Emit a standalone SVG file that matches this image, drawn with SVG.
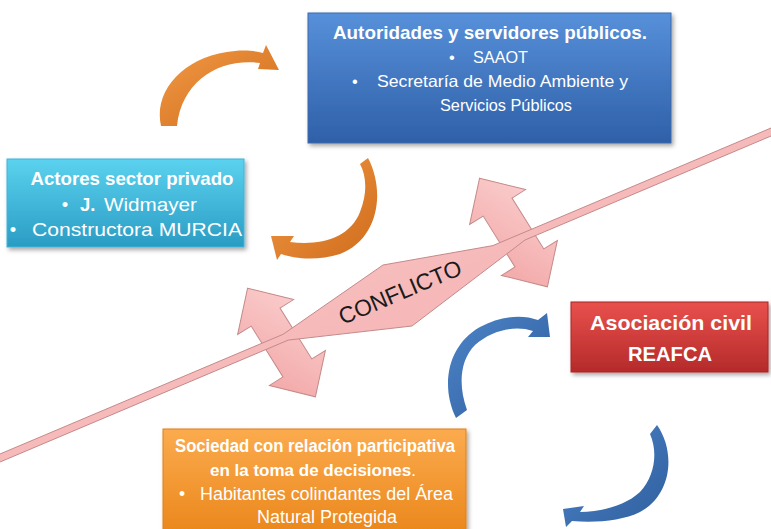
<svg xmlns="http://www.w3.org/2000/svg" width="771" height="529" viewBox="0 0 771 529">
<defs>
  <linearGradient id="gBlue" x1="0" y1="0" x2="0" y2="1"><stop offset="0" stop-color="#5790da"/><stop offset="1" stop-color="#2e60a8"/></linearGradient>
  <linearGradient id="gCyan" x1="0" y1="0" x2="0" y2="1"><stop offset="0" stop-color="#5bd2ef"/><stop offset="1" stop-color="#2a9cc4"/></linearGradient>
  <linearGradient id="gRed" x1="0" y1="0" x2="0" y2="1"><stop offset="0" stop-color="#e9514d"/><stop offset="1" stop-color="#b52a2a"/></linearGradient>
  <linearGradient id="gOrange" x1="0" y1="0" x2="0" y2="1"><stop offset="0" stop-color="#fbab4e"/><stop offset="1" stop-color="#ea8519"/></linearGradient>
  <linearGradient id="gPink" x1="0" y1="0" x2="1" y2="1"><stop offset="0" stop-color="#fbd0d0"/><stop offset="1" stop-color="#f2a4a4"/></linearGradient>
  <linearGradient id="gOrArrow" x1="0" y1="0" x2="1" y2="1"><stop offset="0" stop-color="#f29a45"/><stop offset="1" stop-color="#cf6c1c"/></linearGradient>
  <linearGradient id="gBlArrow" x1="0" y1="0" x2="1" y2="1"><stop offset="0" stop-color="#4d84c8"/><stop offset="1" stop-color="#2f5f9e"/></linearGradient>
  <filter id="shadow" x="-10%" y="-10%" width="125%" height="130%">
    <feDropShadow dx="2" dy="2.5" stdDeviation="2" flood-color="#000" flood-opacity="0.35"/>
  </filter>
  <polygon id="dblArrow" points="-64,0 -30,-33 -30,-17 30,-17 30,-33 64,0 30,33 30,17 -30,17 -30,33"/>
</defs>
<style>
  .t { fill:#ffffff; font-family:"Liberation Sans", Arial, sans-serif; }
  .b { font-weight:bold; }
  .pink { fill:url(#gPink); stroke:#c48a8a; stroke-width:1; }
  .orArrow { fill:url(#gOrArrow); }
  .blArrow { fill:url(#gBlArrow); }
  .box { filter:url(#shadow); }
</style>

<g id="connectors">
  <!-- double arrows across the conflict line -->
  <use href="#dblArrow" class="pink" transform="translate(513.5,232.5) rotate(58)"/>
  <use href="#dblArrow" class="pink" transform="translate(281.5,342.5) rotate(58)"/>
  <!-- orange curved arrows -->
  <path class="orArrow" d="M161,126 C153,90 185,55 235,51 C246,50 256,51 263,53 L266,45 L279,70 L258,69 L260,63 C220,58 182,80 177,126 Z"/>
  <path class="orArrow" d="M360,164 L368,158 C386,192 378,240 340,254 C318,261 295,259 281,254 L277,260 L271,236 L294,236 L290,242 C320,246 350,238 360,212 C368,192 366,175 360,164 Z"/>
  <!-- blue curved arrows -->
  <path class="blArrow" d="M456,418 C440,385 448,345 480,327 C500,316 522,314 538,320 L547,313 L550,337 L528,337 L533,331 C515,325 492,330 475,345 C460,360 458,385 467,410 Z"/>
  <path class="blArrow" d="M650,434 L657,425 C676,452 672,495 640,512 C622,521 595,523 572,521 L566,527 L563,509 L584,506 L580,512 C600,512 625,506 640,492 C655,476 658,452 650,434 Z"/>
</g>

<g id="conflicto">
  <path class="pink" d="M-5,456.1 L283.1,334.3 L383,265 L492.9,245.6 L776,125.9 L776,133.9 L525,240 L412,326 L288.2,340.1 L-5,464.1 Z"/>
  <text transform="translate(400,292) rotate(-23)" x="0" y="8" text-anchor="middle" font-family="Liberation Sans, Arial, sans-serif" font-size="23" fill="#1a1a1a" textLength="131" lengthAdjust="spacingAndGlyphs">CONFLICTO</text>
</g>

<g id="autoridades">
  <rect class="box" x="308" y="13" width="363" height="130" fill="url(#gBlue)" stroke="#3a68ad" stroke-width="1"/>
  <text class="t b" x="490" y="39" text-anchor="middle" font-size="19" textLength="314" lengthAdjust="spacingAndGlyphs">Autoridades y servidores públicos.</text>
  <text class="t" x="452" y="63" text-anchor="middle" font-size="16.5">•</text>
  <text class="t" x="473" y="63" font-size="16.5" textLength="55" lengthAdjust="spacingAndGlyphs">SAAOT</text>
  <text class="t" x="355" y="87" text-anchor="middle" font-size="16.5">•</text>
  <text class="t" x="377" y="87" font-size="16.5" textLength="251" lengthAdjust="spacingAndGlyphs">Secretaría de Medio Ambiente y</text>
  <text class="t" x="440" y="111" font-size="16.5" textLength="132" lengthAdjust="spacingAndGlyphs">Servicios Públicos</text>
</g>

<g id="privado">
  <rect class="box" x="7" y="159" width="237" height="88" fill="url(#gCyan)" stroke="#3fb4d8" stroke-width="1"/>
  <text class="t b" x="132" y="185" text-anchor="middle" font-size="18.5" textLength="203" lengthAdjust="spacingAndGlyphs">Actores sector privado</text>
  <text class="t" x="65" y="210.5" text-anchor="middle" font-size="18.5">•</text>
  <text class="t b" x="80" y="210.5" font-size="18.5">J.</text>
  <text class="t" x="104" y="210.5" font-size="18.5" textLength="93" lengthAdjust="spacingAndGlyphs">Widmayer</text>
  <text class="t" x="13" y="236" text-anchor="middle" font-size="18.5">•</text>
  <text class="t" x="32" y="236" font-size="18.5" textLength="210" lengthAdjust="spacingAndGlyphs">Constructora MURCIA</text>
</g>

<g id="reafca">
  <rect class="box" x="571" y="302" width="197" height="70" fill="url(#gRed)" stroke="#a92727" stroke-width="1"/>
  <text class="t b" x="671" y="330" text-anchor="middle" font-size="21" textLength="162" lengthAdjust="spacingAndGlyphs">Asociación civil</text>
  <text class="t b" x="670" y="361" text-anchor="middle" font-size="21" textLength="84" lengthAdjust="spacingAndGlyphs">REAFCA</text>
</g>

<g id="sociedad">
  <rect class="box" x="163" y="429" width="303" height="110" fill="url(#gOrange)" stroke="#e0801a" stroke-width="1"/>
  <text class="t b" x="315" y="452" text-anchor="middle" font-size="17.5" textLength="280" lengthAdjust="spacingAndGlyphs">Sociedad con relación participativa</text>
  <text class="t" x="313" y="476" text-anchor="middle" font-size="17"><tspan class="b">en la toma de decisiones</tspan>.</text>
  <text class="t" x="182" y="500" text-anchor="middle" font-size="17.5">•</text>
  <text class="t" x="200" y="500" font-size="17.5" textLength="253" lengthAdjust="spacingAndGlyphs">Habitantes colindantes del Área</text>
  <text class="t" x="257" y="523" font-size="17.5" textLength="140" lengthAdjust="spacingAndGlyphs">Natural Protegida</text>
</g>
</svg>
